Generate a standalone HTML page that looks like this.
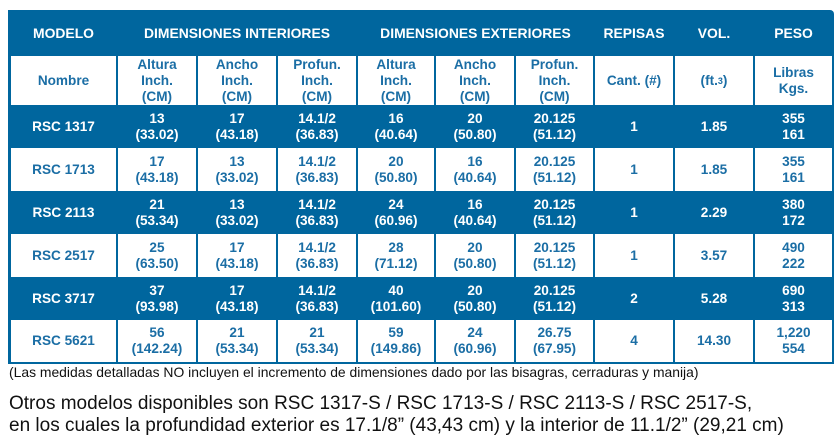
<!DOCTYPE html>
<html><head><meta charset="utf-8"><style>
body{margin:0;width:840px;height:437px;background:#fff;position:relative;overflow:hidden;font-family:"Liberation Sans",Arial,sans-serif}
.t{position:absolute;left:8px;top:10px;width:826px;height:354px;background:#00669e;border-top-right-radius:4px;box-sizing:border-box;padding:0 2px 0 3px;display:grid;
grid-template-columns:105px 78px 78px 78px 76px 78px 77px 78px 78px 77px;column-gap:2px;
grid-template-rows:46px 49px 43px 43px 43px 43px 43px 42px;}
.t div{display:flex;align-items:center;justify-content:center;text-align:center;font-weight:bold;font-size:13.6px;line-height:16px;color:#fff}
.t .w{background:#fff;color:#1b6ea5}
.h{font-size:13.9px!important}
.s{line-height:16px!important}
.fn{position:absolute;left:9px;top:364px;font-size:13.9px;color:#111}
.big{position:absolute;left:9px;font-size:19px;color:#111;white-space:nowrap}
</style></head><body>
<div class="t">
<div class="h">MODELO</div><div class="h" style="grid-column:span 3">DIMENSIONES INTERIORES</div><div class="h" style="grid-column:span 3">DIMENSIONES EXTERIORES</div><div class="h">REPISAS</div><div class="h">VOL.</div><div class="h">PESO</div>
<div class="w">Nombre</div><div class="w s">Altura<br>Inch.<br>(CM)</div><div class="w s">Ancho<br>Inch.<br>(CM)</div><div class="w s">Profun.<br>Inch.<br>(CM)</div><div class="w s">Altura<br>Inch.<br>(CM)</div><div class="w s">Ancho<br>Inch.<br>(CM)</div><div class="w s">Profun.<br>Inch.<br>(CM)</div><div class="w">Cant. (#)</div><div class="w">(ft.<sup style="font-size:9px;line-height:0"> 3</sup>)</div><div class="w">Libras<br>Kgs.</div>
<div>RSC 1317</div><div>13<br>(33.02)</div><div>17<br>(43.18)</div><div>14.1/2<br>(36.83)</div><div>16<br>(40.64)</div><div>20<br>(50.80)</div><div>20.125<br>(51.12)</div><div>1</div><div>1.85</div><div>355<br>161</div>
<div class="w">RSC 1713</div><div class="w">17<br>(43.18)</div><div class="w">13<br>(33.02)</div><div class="w">14.1/2<br>(36.83)</div><div class="w">20<br>(50.80)</div><div class="w">16<br>(40.64)</div><div class="w">20.125<br>(51.12)</div><div class="w">1</div><div class="w">1.85</div><div class="w">355<br>161</div>
<div>RSC 2113</div><div>21<br>(53.34)</div><div>13<br>(33.02)</div><div>14.1/2<br>(36.83)</div><div>24<br>(60.96)</div><div>16<br>(40.64)</div><div>20.125<br>(51.12)</div><div>1</div><div>2.29</div><div>380<br>172</div>
<div class="w">RSC 2517</div><div class="w">25<br>(63.50)</div><div class="w">17<br>(43.18)</div><div class="w">14.1/2<br>(36.83)</div><div class="w">28<br>(71.12)</div><div class="w">20<br>(50.80)</div><div class="w">20.125<br>(51.12)</div><div class="w">1</div><div class="w">3.57</div><div class="w">490<br>222</div>
<div>RSC 3717</div><div>37<br>(93.98)</div><div>17<br>(43.18)</div><div>14.1/2<br>(36.83)</div><div>40<br>(101.60)</div><div>20<br>(50.80)</div><div>20.125<br>(51.12)</div><div>2</div><div>5.28</div><div>690<br>313</div>
<div class="w">RSC 5621</div><div class="w">56<br>(142.24)</div><div class="w">21<br>(53.34)</div><div class="w">21<br>(53.34)</div><div class="w">59<br>(149.86)</div><div class="w">24<br>(60.96)</div><div class="w">26.75<br>(67.95)</div><div class="w">4</div><div class="w">14.30</div><div class="w">1,220<br>554</div>
</div>
<div class="fn">(Las medidas detalladas NO incluyen el incremento de dimensiones dado por las bisagras, cerraduras y manija)</div>
<div class="big" style="top:393px">Otros modelos disponibles son RSC 1317-S / RSC 1713-S / RSC 2113-S / RSC 2517-S,</div>
<div class="big" style="top:415px">en los cuales la profundidad exterior es 17.1/8” (43,43 cm) y la interior de 11.1/2” (29,21 cm)</div>
</body></html>
